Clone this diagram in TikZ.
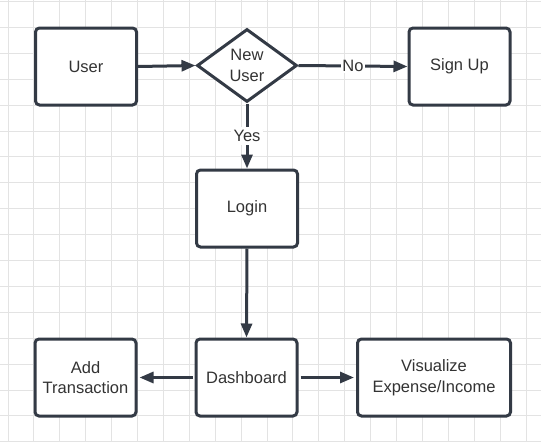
\documentclass[tikz,border=0pt]{standalone}
\usepackage{fontspec}
\setmainfont{Liberation Sans}
\usetikzlibrary{shapes.geometric,arrows.meta}
\definecolor{ink}{HTML}{333A45}
\definecolor{txt}{HTML}{333333}
\definecolor{gridc}{HTML}{E3E3E3}
\begin{document}
\begin{tikzpicture}[x=1pt,y=-1pt,
  lbl/.style={text=txt,font=\fontsize{16.5}{20.5}\selectfont,align=center},
  box/.style={lbl,draw=ink,line width=3pt,rounded corners=4pt,fill=white,
    minimum width=101pt,minimum height=77pt,inner sep=0pt},
  decision/.style={lbl,diamond,draw=ink,line width=3pt,fill=white,
    minimum width=100pt,minimum height=73pt,inner sep=0pt},
  arrow/.style={draw=ink,line width=3pt,-{Triangle[length=14pt,width=11pt]}},
  edgelab/.style={lbl,fill=white,inner sep=1.5pt}]
\useasboundingbox (0,0) rectangle (541,442);
\fill[white] (0,0) rectangle (541,442);
\begin{scope}
\clip (0,0) rectangle (541,442);
\foreach \i in {0,...,20} \draw[gridc,line width=1pt] ({8+25.9*\i},0) -- ({8+25.9*\i},442);
\foreach \j in {0,...,17} \draw[gridc,line width=1pt] (0,{1.5+25.9*\j}) -- (541,{1.5+25.9*\j});
\end{scope}
\node[box] (user) at (86,66.5) {User};
\node[decision] (new) at (247,65.5) {New\\User};
\node[box] (signup) at (459.5,66.5) {Sign Up};
\node[box] (login) at (247,208.5) {Login};
\node[box] (dash) at (246.5,377.5) {Dashboard};
\node[box] (add) at (85.5,377.5) {Add\\Transaction};
\node[box,minimum width=153pt] (vis) at (434,377.5) {Visualize\\Expense/Income};
\draw[arrow] (user.east) -- (new.west);
\draw[arrow] (new.east) -- node[edgelab]{No} (signup.west);
\draw[arrow] (new.south) -- node[edgelab,inner sep=3pt]{Yes} (login.north);
\draw[arrow] (login.south) -- (dash.north);
\draw[arrow,shorten <=2pt,shorten >=2pt] (dash.west) -- (add.east);
\draw[arrow,shorten <=2pt,shorten >=2pt] (dash.east) -- (vis.west);
\end{tikzpicture}
\end{document}
